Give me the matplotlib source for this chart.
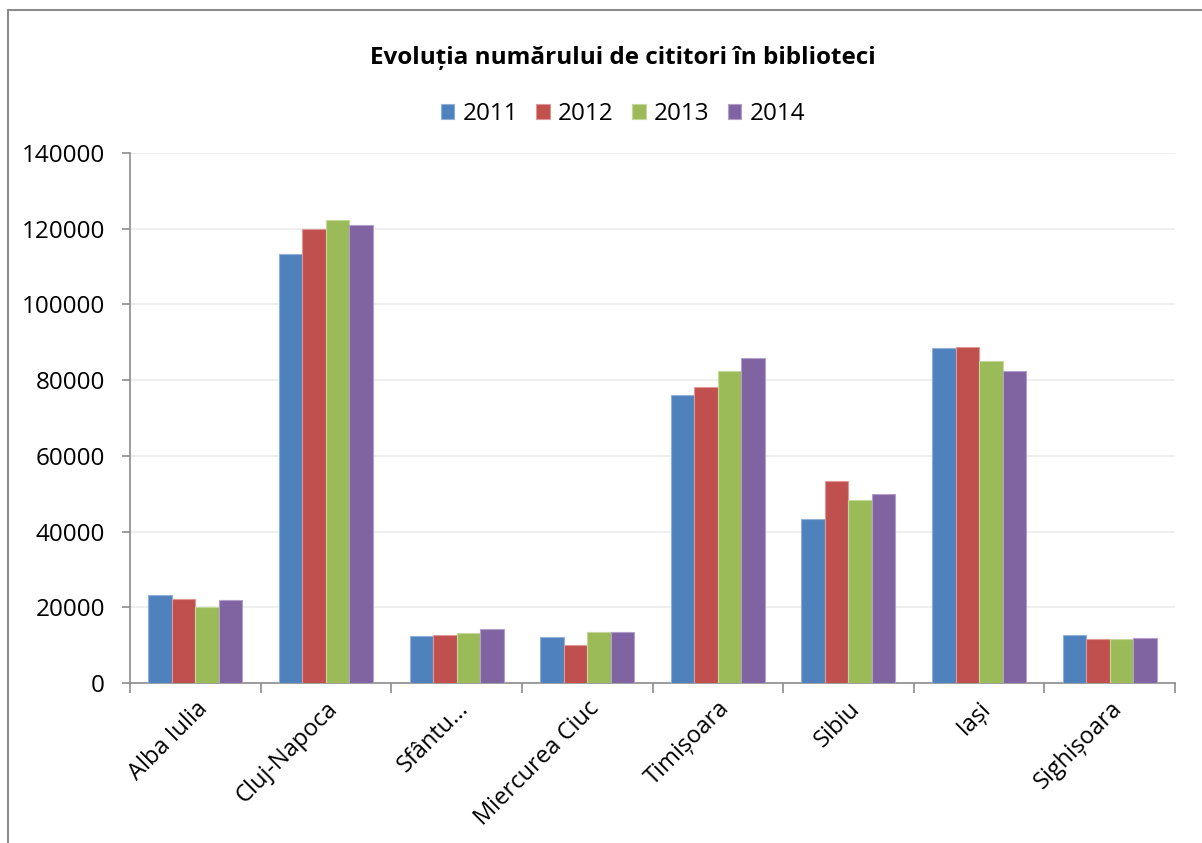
import numpy as np
import matplotlib.pyplot as plt
from matplotlib.patches import Rectangle

plt.rcParams['font.family'] = ['Open Sans', 'DejaVu Sans']

cities = ['Alba Iulia', 'Cluj-Napoca', 'Sfântu...', 'Miercurea Ciuc',
          'Timișoara', 'Sibiu', 'Iași', 'Sighișoara']
years = ['2011', '2012', '2013', '2014']
v2011 = [23200, 113300, 12400, 12100, 76200, 43300, 88600, 12700]
v2012 = [22100, 119900, 12700, 10100, 78200, 53300, 88700, 11600]
v2013 = [20200, 122200, 13100, 13400, 82400, 48300, 85000, 11600]
v2014 = [21900, 121000, 14300, 13400, 85800, 49800, 82400, 11800]
colors = ['#4f81bd', '#c0504d', '#9bbb59', '#8064a2']
edges = ['#8fb0d9', '#e09896', '#c3d89a', '#b09fcb']

W, H = 1202, 843
fig = plt.figure(figsize=(W / 100, H / 100), dpi=100)
ax = fig.add_axes([130 / W, 1 - 683 / H, 1045 / W, 530 / H])

# outer chart frame (runs past the right and bottom edges)
fig.patches.append(Rectangle((8 / W, -0.05), 1.2, 1 - 10 / H + 0.05,
                             transform=fig.transFigure, fill=False,
                             edgecolor='#8c8c8c', linewidth=1.5))

x = np.arange(len(cities))
bw = 0.18
for i, vals in enumerate([v2011, v2012, v2013, v2014]):
    ax.bar(x + (i - 1.5) * bw, vals, bw, color=colors[i], edgecolor=edges[i],
           linewidth=0.8, label=years[i], zorder=3)

ax.set_xlim(-0.5, len(cities) - 0.5)
ax.set_ylim(0, 140000)
ax.set_yticks(np.arange(0, 140001, 20000))
ax.grid(axis='y', color='#ececec', linewidth=1.2, zorder=0)
for s in ['top', 'right']:
    ax.spines[s].set_visible(False)
for s in ['left', 'bottom']:
    ax.spines[s].set_color('#8c8c8c')
    ax.spines[s].set_linewidth(1.2)

ax.set_xticks(np.arange(-0.5, len(cities), 1.0), minor=False)
ax.set_xticklabels([])
ax.set_xticks(x, minor=True)
ax.set_xticklabels(cities, minor=True, rotation=45, ha='right',
                   rotation_mode='anchor', fontsize=17)
ax.tick_params(axis='x', which='major', length=7, color='#8c8c8c', width=1.2)
ax.tick_params(axis='x', which='minor', length=0, pad=10)
ax.tick_params(axis='y', length=6, color='#8c8c8c', width=1.2, labelsize=17.5, pad=12)

# the chart area is wider than the visible image, so its centre sits right of middle
cx = 623 / W
fig.text(cx, 1 - 58 / H, 'Evoluția numărului de cititori în biblioteci',
         ha='center', va='center', fontsize=17.5, fontweight='bold')
fig.legend(loc='center', bbox_to_anchor=(cx, 1 - 114 / H), ncol=4, frameon=False,
           fontsize=17.5, handlelength=0.55, handleheight=0.55, handletextpad=0.35,
           columnspacing=0.75)

fig.savefig('out.png', dpi=100)
